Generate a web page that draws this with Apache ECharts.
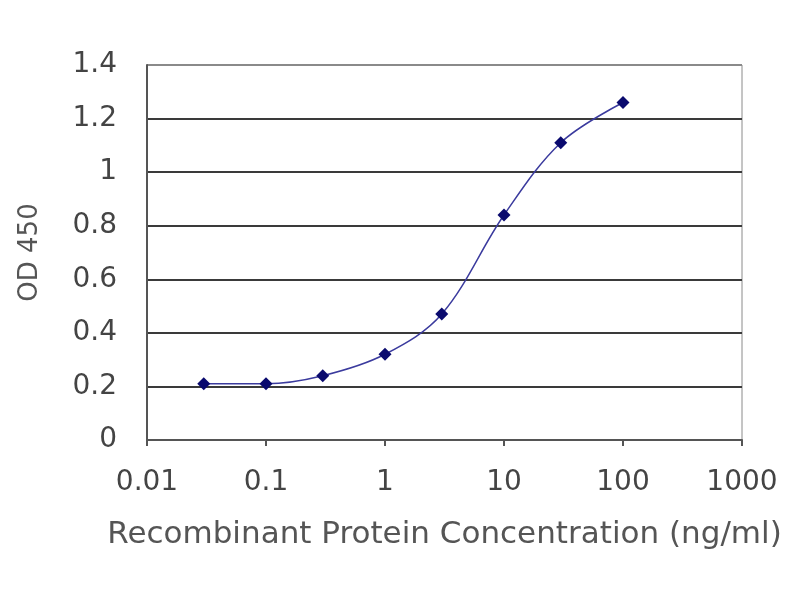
<!DOCTYPE html>
<html>
<head>
<meta charset="utf-8">
<script src="https://cdn.jsdelivr.net/npm/echarts@6/dist/echarts.min.js"></script>
<style>
  html, body { margin: 0; padding: 0; background: #fff; }
  #main { width: 800px; height: 600px; }
</style>
</head>
<body>
<div id="main"></div>
<script>
// concentration (ng/ml) and OD 450 readings
var concentrations = [0.03, 0.1, 0.3, 1, 3, 10, 30, 100];
var odValues = [0.21, 0.21, 0.24, 0.32, 0.47, 0.84, 1.11, 1.26];

var points = [];
for (var i = 0; i < concentrations.length; i++) {
  points.push([concentrations[i], odValues[i]]);
}

var myChart = echarts.init(document.getElementById('main'));

var option = {
  animation: false,
  backgroundColor: '#fff',
  grid: {
    left: 147,
    right: 58,
    top: 65,
    bottom: 160,
    show: true,
    borderColor: '#8a8a8a',
    borderWidth: 1
  },
  xAxis: {
    type: 'log',
    logBase: 10,
    min: 0.01,
    max: 1000,
    name: 'Recombinant Protein Concentration (ng/ml)',
    nameLocation: 'middle',
    nameGap: 79,
    nameTextStyle: { fontFamily: 'DejaVu Sans', fontSize: 31, color: '#555' },
    axisLine: { lineStyle: { color: '#555', width: 2 } },
    axisTick: { show: true, length: 6, lineStyle: { color: '#555', width: 2 } },
    axisLabel: {
      fontFamily: 'DejaVu Sans', fontSize: 28, color: '#444', margin: 29,
      formatter: function (v) { return String(+v.toPrecision(3)); }
    },
    splitLine: { show: false },
    minorTick: { show: false }
  },
  yAxis: {
    type: 'value',
    min: 0,
    max: 1.4,
    interval: 0.2,
    name: 'OD 450',
    nameLocation: 'middle',
    nameGap: 104,
    nameRotate: 90,
    nameTextStyle: { fontFamily: 'DejaVu Sans', fontSize: 26, color: '#555' },
    axisLine: { show: true, lineStyle: { color: '#555', width: 2 } },
    axisTick: { show: false },
    axisLabel: {
      fontFamily: 'DejaVu Sans', fontSize: 28, color: '#444', margin: 30,
      formatter: function (v) { return String(+v.toFixed(1)); }
    },
    splitLine: {
      show: true,
      lineStyle: {
        color: ['#555', '#3a3a3a', '#3a3a3a', '#3a3a3a', '#3a3a3a', '#3a3a3a', '#3a3a3a', '#8a8a8a'],
        width: 2
      }
    }
  },
  series: [
    {
      type: 'line',
      data: points,
      smooth: 0.35,
      symbol: 'diamond',
      symbolSize: 13,
      itemStyle: { color: '#0a0a6e' },
      lineStyle: { color: '#3b3b9e', width: 1.5 }
    }
  ]
};

myChart.setOption(option);
</script>
</body>
</html>
